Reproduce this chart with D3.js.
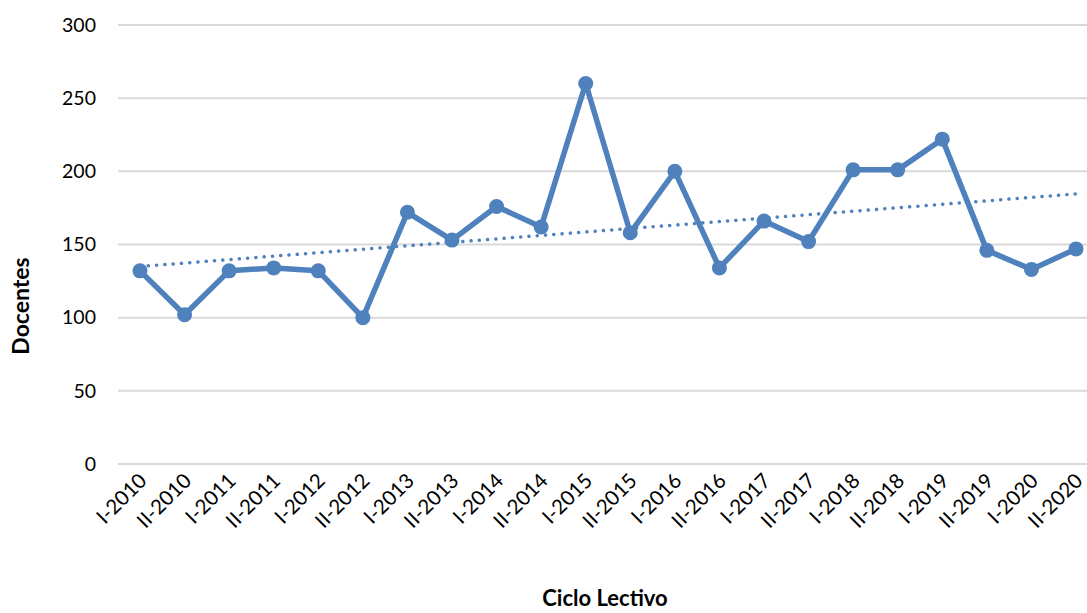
<!DOCTYPE html>
<html>
<head>
<meta charset="utf-8">
<script src="https://cdn.jsdelivr.net/npm/d3@7"></script>
<style>
  body { margin: 0; background: #fff; }
  text { font-family: Lato, "Open Sans", sans-serif; fill: #000; }
</style>
</head>
<body>
<svg class="chart"></svg>
<script>
var width = 1087, height = 613;

// data
var ciclos = ["I-2010","II-2010","I-2011","II-2011","I-2012","II-2012","I-2013","II-2013",
  "I-2014","II-2014","I-2015","II-2015","I-2016","II-2016","I-2017","II-2017",
  "I-2018","II-2018","I-2019","II-2019","I-2020","II-2020"];
var docentes = [132,102,132,134,132,100,172,153,176,162,260,158,200,134,166,152,201,201,222,146,133,147];
var yTicks = [0,50,100,150,200,250,300];

var chart = d3.select(".chart")
    .attr("width", width)
    .attr("height", height);

var x = d3.scalePoint()
    .domain(ciclos)
    .range([140, 1076]);

var y = d3.scaleLinear()
    .domain([0, 300])
    .range([464, 25]);

// gridlines
chart.append("g")
  .selectAll("line")
  .data(yTicks)
  .enter().append("line")
    .attr("x1", 118)
    .attr("x2", 1098)
    .attr("y1", d => y(d))
    .attr("y2", d => y(d))
    .attr("stroke", "#d9d9d9")
    .attr("stroke-width", 2);

// y labels
chart.append("g")
  .selectAll("text")
  .data(yTicks)
  .enter().append("text")
    .attr("x", 96)
    .attr("y", d => y(d))
    .attr("dy", "0.35em")
    .attr("text-anchor", "end")
    .style("font-size", "19.5px")
    .text(d => d);

// x labels, rotated
chart.append("g")
  .selectAll("text")
  .data(ciclos)
  .enter().append("text")
    .attr("text-anchor", "end")
    .attr("transform", d => "translate(" + (x(d) + 8) + ",482) rotate(-45)")
    .style("font-size", "20.5px")
    .text(d => d);

// linear trend
var idx = d3.range(ciclos.length);
var mx = d3.mean(idx), my = d3.mean(docentes);
var slope = d3.sum(idx, i => (i - mx) * (docentes[i] - my)) / d3.sum(idx, i => (i - mx) * (i - mx));
var icpt = my - slope * mx;

chart.append("line")
    .attr("x1", x(ciclos[0]))
    .attr("x2", x(ciclos[ciclos.length - 1]))
    .attr("y1", y(icpt))
    .attr("y2", y(icpt + slope * (ciclos.length - 1)))
    .attr("stroke", "#4f81bd")
    .attr("stroke-width", 3.5)
    .attr("stroke-linecap", "round")
    .attr("stroke-dasharray", "0.1,8.2");

// series line
var line = d3.line()
    .x((d, i) => x(ciclos[i]))
    .y(d => y(d));

chart.append("path")
    .datum(docentes)
    .attr("d", line)
    .attr("fill", "none")
    .attr("stroke", "#4f81bd")
    .attr("stroke-width", 5.5)
    .attr("stroke-linejoin", "round");

chart.append("g")
  .selectAll("circle")
  .data(docentes)
  .enter().append("circle")
    .attr("cx", (d, i) => x(ciclos[i]))
    .attr("cy", d => y(d))
    .attr("r", 7.5)
    .attr("fill", "#4f81bd");

// axis titles
chart.append("text")
    .attr("transform", "translate(29,306) rotate(-90)")
    .attr("text-anchor", "middle")
    .style("font-size", "23px")
    .style("font-weight", "bold")
    .text("Docentes");

chart.append("text")
    .attr("x", 605)
    .attr("y", 606)
    .attr("text-anchor", "middle")
    .style("font-size", "22px")
    .style("font-weight", "bold")
    .text("Ciclo Lectivo");
</script>
</body>
</html>
